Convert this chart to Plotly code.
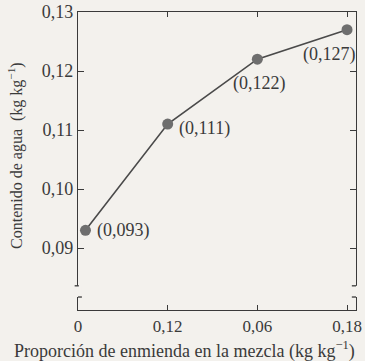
import plotly.graph_objects as go

# data
x_pos = [0.005, 0.06, 0.12, 0.18]
agua = [0.093, 0.111, 0.122, 0.127]
point_labels = ["(0,093)", "(0,111)", "(0,122)", "(0,127)"]
x_tickvals = [0, 0.06, 0.12, 0.18]
x_ticktext = ["0", "0,12", "0,06", "0,18"]
y_tickvals = [0.09, 0.10, 0.11, 0.12, 0.13]
y_ticktext = ["0,09", "0,10", "0,11", "0,12", "0,13"]

BG = "#f3f1ed"
INK = "#3a3a3a"
FONT = "Liberation Serif"

fig = go.Figure()
fig.add_trace(go.Scatter(
    x=x_pos, y=agua, mode="lines+markers",
    line=dict(color="#4a4a4a", width=1.6),
    marker=dict(size=11, color="#6e6e6e", line=dict(width=0)),
    hoverinfo="skip", showlegend=False,
))

offsets = [(38, 0), (37, -4), (2, -24), (-18, -25)]
for xv, yv, t, (dx, dy) in zip(x_pos, agua, point_labels, offsets):
    fig.add_annotation(x=xv, y=yv, text=t, showarrow=False,
                       xshift=dx, yshift=dy,
                       font=dict(family=FONT, size=18, color=INK))

xr = [0, 0.186]
yr = [0.0795, 0.13]

fig.update_layout(
    width=365, height=361,
    margin=dict(l=78, r=9, t=12, b=51, autoexpand=False),
    paper_bgcolor=BG, plot_bgcolor=BG,
    font=dict(family=FONT, color=INK, size=16),
    xaxis=dict(range=xr, tickvals=x_tickvals, ticktext=x_ticktext,
               automargin=False, ticklabeloverflow="allow",
               showgrid=False, zeroline=False, showline=True, mirror="ticks",
               linecolor=INK, linewidth=1.3, ticks="inside", ticklen=5,
               tickcolor=INK, tickfont=dict(size=17, family=FONT, color=INK)),
    yaxis=dict(range=yr, tickvals=y_tickvals, ticktext=y_ticktext,
               automargin=False, ticklabeloverflow="allow",
               showgrid=False, zeroline=False, showline=True, mirror="ticks",
               linecolor=INK, linewidth=1.3, ticks="inside", ticklen=6,
               tickcolor=INK, tickfont=dict(size=18, family=FONT, color=INK)),
)

gap_lo, gap_hi = 0.0817, 0.0836
for xp in (0, 1):
    fig.add_shape(type="rect", xref="paper", yref="y",
                  x0=xp - 0.012, x1=xp + 0.012, y0=gap_lo, y1=gap_hi,
                  fillcolor=BG, line=dict(width=0), layer="above")
fig.add_shape(type="line", xref="paper", yref="y", x0=-0.012, x1=0.003,
              y0=gap_hi, y1=gap_hi, line=dict(color=INK, width=1.3))
fig.add_shape(type="line", xref="paper", yref="y", x0=0, x1=0.014,
              y0=gap_lo, y1=gap_lo, line=dict(color=INK, width=1.3))
fig.add_shape(type="line", xref="paper", yref="y", x0=0.985, x1=1,
              y0=gap_hi, y1=gap_hi, line=dict(color=INK, width=1.3))
fig.add_shape(type="line", xref="paper", yref="y", x0=0.985, x1=1,
              y0=gap_lo, y1=gap_lo, line=dict(color=INK, width=1.3))

fig.add_annotation(xref="paper", yref="paper", x=-0.227, y=0.52,
                   xanchor="center", yanchor="middle", textangle=-90,
                   showarrow=False,
                   text="Contenido de agua  (kg kg<sup>−1</sup>)",
                   font=dict(size=16, family=FONT, color=INK))
fig.add_annotation(xref="paper", yref="paper", x=-0.237, y=-0.134,
                   xanchor="left", yanchor="middle", showarrow=False,
                   text="Proporción de enmienda en la mezcla (kg kg<sup>−1</sup>)",
                   font=dict(size=18, family=FONT, color=INK))

fig.write_html("out.html",
               config={"displayModeBar": False},
               post_script="document.body.style.margin='0';")
